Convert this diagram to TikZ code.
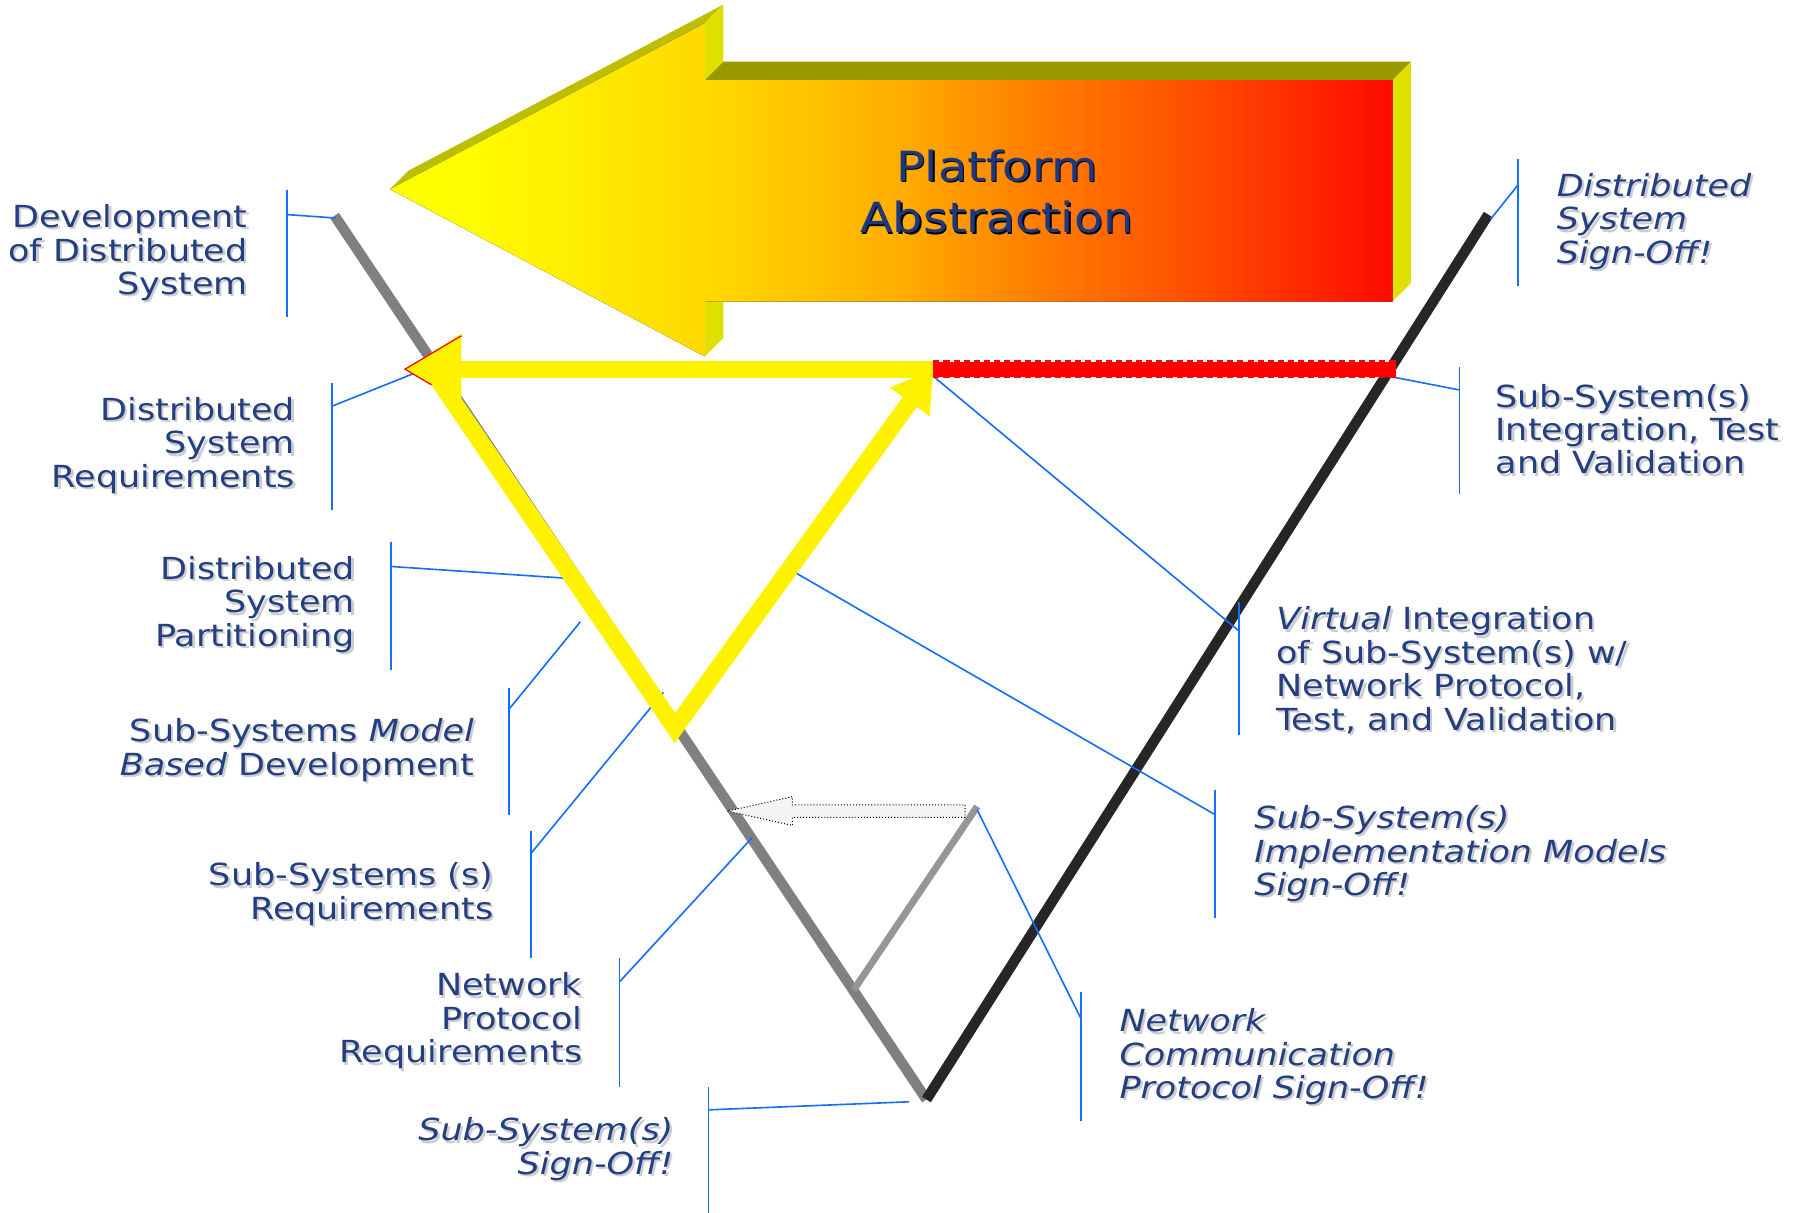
\documentclass[tikz,border=0pt]{standalone}
\usepackage{fontspec}
\setmainfont{DejaVu Sans}[FakeStretch=1.15]
\usepackage{tikz}
\usetikzlibrary{arrows.meta, calc, shapes.arrows}
\usepackage{xcolor}
\definecolor{navy}{RGB}{36,62,130}
\definecolor{platnavy}{RGB}{30,56,128}
\definecolor{lblshadow}{RGB}{205,205,205}
\definecolor{tickblue}{RGB}{20,110,255}
\definecolor{leggray}{RGB}{128,128,128}
\definecolor{legdark}{RGB}{38,38,38}
\definecolor{innergray}{RGB}{150,150,150}
\definecolor{olivetop}{RGB}{153,153,0}
\definecolor{sideyellow}{RGB}{224,224,0}
\definecolor{slantyellow}{RGB}{190,190,0}
\definecolor{gradA}{RGB}{255,216,0}
\definecolor{gradB}{RGB}{255,176,0}
\definecolor{gradC}{RGB}{255,128,0}
\definecolor{gradD}{RGB}{255,72,0}
\definecolor{gradE}{RGB}{255,10,0}
\pgfdeclarehorizontalshading{abstraction}{100bp}{color(0bp)=(yellow); color(28bp)=(yellow); color(41bp)=(gradA); color(50bp)=(gradB); color(57bp)=(gradC); color(66bp)=(gradD); color(75bp)=(gradE); color(100bp)=(gradE)}

\tikzset{
  lbl/.style={font=\fontsize{15}{16.5}\selectfont, text=navy, inner sep=0pt},
  lblit/.style={lbl, font=\fontsize{15}{16.5}\selectfont\itshape},
  tick/.style={tickblue, line width=0.8pt},
  yel/.style={yellow, line width=0.3cm},
}

\begin{document}
\begin{tikzpicture}[x=0.02cm, y=-0.02cm]
  \useasboundingbox (0,0) rectangle (1568,1051);

  % big 3d arrow
  \coordinate (tip) at (338,164);
  \coordinate (htop) at (611,20);
  \coordinate (hin) at (611,69.5);
  \coordinate (sr) at (1207,69.5);
  \coordinate (sbr) at (1207,261.5);
  \coordinate (hbin) at (611,261.5);
  \coordinate (hbot) at (611,309);
  \fill[slantyellow] (tip) -- (htop) -- ++(16,-16) -- ($(tip)+(16,-16)$) -- cycle;
  \fill[sideyellow] (htop) -- ++(16,-16) -- ($(hin)+(16,-16)$) -- (hin) -- cycle;
  \fill[olivetop] (hin) -- ++(16,-16) -- ($(sr)+(16,-16)$) -- (sr) -- cycle;
  \fill[sideyellow] (sr) -- ++(16,-16) -- ($(sbr)+(16,-16)$) -- (sbr) -- cycle;
  \fill[sideyellow] (hbin) -- ++(16,-16) -- ($(hbot)+(16,-16)$) -- (hbot) -- cycle;
  \fill[shading=abstraction] (tip) -- (htop) -- (hin) -- (sr) -- (sbr) -- (hbin) -- (hbot) -- cycle;
  \foreach \sh/\col in {1.2/black, 0/platnavy}
    \node[font=\fontsize{20.5}{25.6}\selectfont, text=\col, align=center] (platform) at (864+\sh,166+\sh) {Platform\\Abstraction};

  % the V
  \coordinate (ltop) at (290,187);
  \coordinate (vbot) at (803,953);
  \coordinate (rtop) at (1290,186);
  \coordinate (ijoin) at (740,858);
  \coordinate (itop) at (847,699);
  \draw[leggray, line width=0.18cm] (ltop) -- (vbot);
  \draw[legdark, line width=0.18cm] (vbot) -- (rtop);
  \draw[innergray, line width=0.12cm] (ijoin) -- (itop);
  \node[single arrow, shape border rotate=180, draw=black, densely dotted, line width=0.5pt,
        fill=gray!8, inner sep=0.1cm, minimum height=4.12cm, single arrow head extend=0.14cm,
        single arrow tip angle=25, single arrow head indent=0cm, anchor=tail] (back) at (837,703) {};

  % brackets and leaders
  \foreach \n/\bx/\bt/\bb/\cy/\tx/\ty in {1/249/165/275/186/291/189, 2/288/332/442/352/358/324,
      3/339/470/581/491/488/501, 4/441/596/706/615/503/539, 5/460/720/830/740/575/600,
      6/537/830/942/851/652/726, 7/614/942/1051/962/788/955, 8/1316/138/248/160/1292/190,
      9/1265/318/428/338/1198/325, 10/1074/522/637/547/810/327, 11/1053/685/796/706/687/495,
      12/937/860/972/883/847/702} {
    \coordinate (br\n) at (\bx,\cy);
    \coordinate (on\n) at (\tx,\ty);
    \draw[tick] (\bx,\bt) -- (\bx,\bb);
    \draw[tick] (br\n) -- (on\n);
  }

  % yellow loop
  \coordinate (ytl) at (375,322);
  \coordinate (ybot) at (585,631);
  \coordinate (ytr) at (809,320);
  \coordinate (ytip) at (351,320);
  \coordinate (redend) at (1210,320);
  \fill[red] ($(ytr)+(0,-6.5)$) rectangle ($(redend)+(0,6.5)$);
  \draw[red, densely dashed, line width=0.9pt] ($(ytr)+(0,-7)$) -- ($(redend)+(0,-7)$)
                                                ($(ytr)+(0,7)$) -- ($(redend)+(0,7)$);
  \draw[yel, line join=miter, -{Triangle[length=0.7cm, width=0.8cm]}] (ytl) -- (ybot) -- (ytr);
  \draw[yel, -{Triangle[length=0.98cm, width=1.16cm]}] (ytr) -- (ytip);
  \draw[red, line width=0.6pt] (400,291) -- (ytip) -- (374,333.5);

  % labels, shadow first
  \foreach \sh/\col in {2/lblshadow, 0/navy} {
    \begin{scope}[shift={(\sh,\sh)}, lbl/.append style={text=\col}]
      \node[lbl, align=right, anchor=east] (devdist) at (215,219) {Development\\of Distributed\\System};
      \node[lbl, align=right, anchor=east] (dsreq) at (256,386) {Distributed\\System\\Requirements};
      \node[lbl, align=right, anchor=east] (dspart) at (308,524) {Distributed\\System\\Partitioning};
      \node[lbl, align=right, anchor=east] (mbd) at (411,650) {Sub-Systems \textit{Model}\\\textit{Based} Development};
      \node[lbl, align=right, anchor=east] (ssreq) at (428,775) {Sub-Systems (s)\\Requirements};
      \node[lbl, align=right, anchor=east] (netreq) at (505,885) {Network\\Protocol\\Requirements};
      \node[lblit, align=right, anchor=east] (sssign) at (584,996) {Sub-System(s)\\Sign-Off!};

      \node[lblit, align=left, anchor=west] (dssign) at (1349,192) {Distributed\\System\\Sign-Off!};
      \node[lbl, align=left, anchor=west] (ssint) at (1296,372) {Sub-System(s)\\Integration, Test\\and Validation};
      \node[lbl, align=left, anchor=west] (virt) at (1106,581) {\textit{Virtual} Integration\\of Sub-System(s) w/\\Network Protocol,\\Test, and Validation};
      \node[lblit, align=left, anchor=west] (implsign) at (1087,740) {Sub-System(s)\\Implementation Models\\Sign-Off!};
      \node[lblit, align=left, anchor=west] (netsign) at (970,916) {Network\\Communication\\Protocol Sign-Off!};
    \end{scope}
  }
\end{tikzpicture}
\end{document}
